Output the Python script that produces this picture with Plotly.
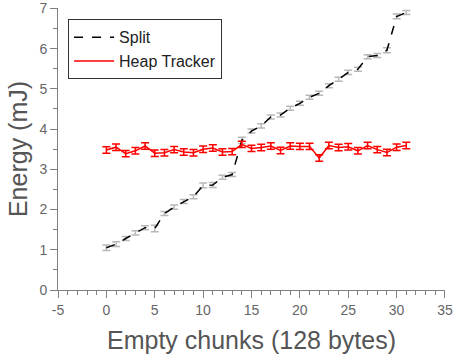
import plotly.graph_objects as go

x_vals = list(range(32))
split_vals = [1.05, 1.14, 1.28, 1.42, 1.55, 1.53, 1.90, 2.06, 2.20, 2.32, 2.60, 2.61, 2.80, 2.87,
              3.72, 3.95, 4.08, 4.30, 4.35, 4.52, 4.64, 4.79, 4.89, 5.08, 5.24, 5.41, 5.49,
              5.80, 5.83, 5.96, 6.80, 6.90]
split_err = [0.07, 0.06, 0.05, 0.05, 0.05, 0.08, 0.05, 0.05, 0.05, 0.05, 0.06, 0.06, 0.05, 0.05,
             0.08, 0.05, 0.05, 0.05, 0.05, 0.05, 0.05, 0.05, 0.05, 0.05, 0.05, 0.05, 0.05,
             0.05, 0.05, 0.06, 0.06, 0.05]
heap_vals = [3.48, 3.55, 3.39, 3.46, 3.58, 3.40, 3.41, 3.49, 3.43, 3.41, 3.50, 3.53, 3.43, 3.44,
             3.62, 3.52, 3.54, 3.58, 3.47, 3.58, 3.57, 3.57, 3.28, 3.59, 3.54, 3.56, 3.46,
             3.59, 3.49, 3.42, 3.55, 3.59]
heap_err = [0.08] * 32

x_ticks = [-5, 0, 5, 10, 15, 20, 25, 30, 35]
x_ticklabels = ["-5", "0", "5", "10", "15", "20", "25", "30", "35"]
y_ticks = [0, 1, 2, 3, 4, 5, 6, 7]
y_ticklabels = ["0", "1", "2", "3", "4", "5", "6", "7"]

fig = go.Figure()
fig.add_trace(go.Scatter(
    x=x_vals, y=split_vals, mode="lines", name="Split",
    line=dict(color="black", width=1.5, dash="dash"),
    error_y=dict(type="data", array=split_err, visible=True, color="#b8b8b8", thickness=1.5, width=4),
))
fig.add_trace(go.Scatter(
    x=x_vals, y=heap_vals, mode="lines", name="Heap Tracker",
    line=dict(color="#ff0000", width=1.5),
    error_y=dict(type="data", array=heap_err, visible=True, color="#ff0000", thickness=1.5, width=4),
))

axis_common = dict(
    showgrid=False, zeroline=False, showline=True, linecolor="#808080", linewidth=1,
    ticks="outside", ticklen=7, tickcolor="#808080", tickwidth=1, automargin=False,
    ticklabeloverflow="allow",
    tickfont=dict(family="Liberation Sans, Arial", size=14, color="#666666"),
)
fig.update_layout(
    width=453, height=358,
    margin=dict(l=58, r=8, t=8, b=68),
    paper_bgcolor="white", plot_bgcolor="white",
    font=dict(family="Liberation Sans, Arial", color="#555555"),
    xaxis=dict(range=[-5, 35.001], tickmode="array", tickvals=x_ticks, ticktext=x_ticklabels,
               minor=dict(dtick=1, tick0=0, ticks="outside", ticklen=4, tickcolor="#808080"),
               title=dict(text="Empty chunks (128 bytes)", font=dict(size=25, color="#555555"), standoff=14),
               **axis_common),
    yaxis=dict(range=[0, 7.01], tickmode="array", tickvals=y_ticks, ticktext=y_ticklabels,
               minor=dict(dtick=0.5, tick0=0, ticks="outside", ticklen=4, tickcolor="#808080"),
               title=dict(text="Energy (mJ)", font=dict(size=25, color="#555555"), standoff=4),
               **axis_common),
    legend=dict(x=0.026, y=0.96, xanchor="left", yanchor="top", itemwidth=40,
                bordercolor="#333333", borderwidth=1, bgcolor="white",
                font=dict(size=16, color="#222222"), tracegroupgap=0),
    showlegend=True,
)
fig.write_html("out.html")
